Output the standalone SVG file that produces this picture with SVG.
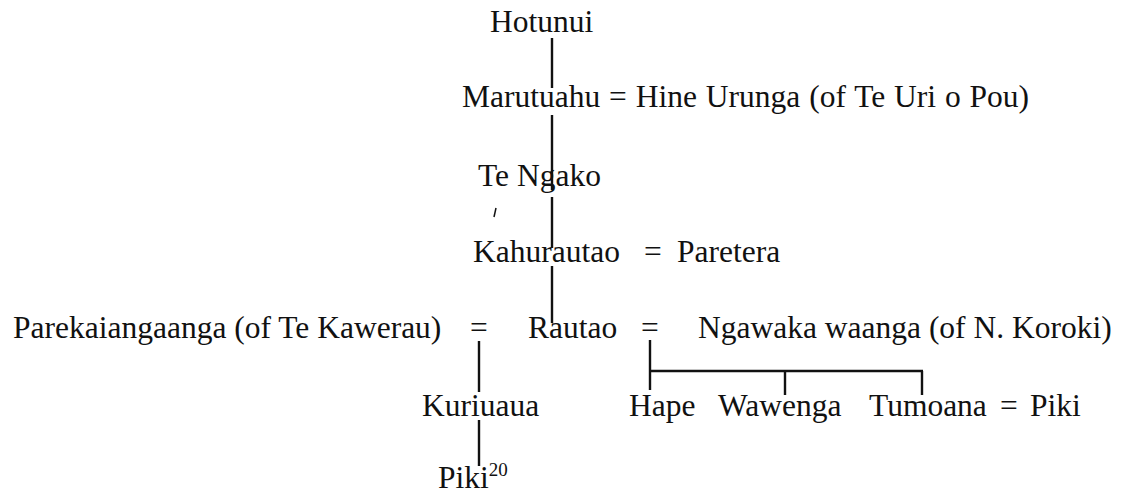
<svg xmlns="http://www.w3.org/2000/svg" width="1125" height="494" viewBox="0 0 1125 494">
<style>
text{font-family:"Liberation Serif","Times New Roman",serif;font-size:31.5px;fill:#111}
.sup{font-size:19px}
.ln{stroke:#111;stroke-width:2.4;fill:none;stroke-linecap:butt}
</style>
<rect width="1125" height="494" fill="#fff"/>
<g id="connectors">
<path class="ln" d="M552 38V88M552 115V190M552 197V248M552 266V323"/>
<path class="ln" d="M479 341V392M479 420V466"/>
<path class="ln" d="M650 340V390M649 371H923M785 371V395M922 371V395"/>
<path d="M496 208L494 217" stroke="#111" stroke-width="1.5"/>
</g>
<g id="n-hotunui"><text x="490" y="32">Hotunui</text></g>
<g id="n-marutuahu"><text x="462" y="107" word-spacing="1">Marutuahu = Hine Urunga (of Te Uri o Pou)</text></g>
<g id="n-tengako"><text x="478" y="186">Te Ngako</text></g>
<g id="n-kahurautao"><text x="473" y="262">Kahurautao</text><text x="644" y="262">=</text><text x="677" y="262">Paretera</text></g>
<g id="n-parekaiangaanga"><text x="13" y="338">Parekaiangaanga (of Te Kawerau)</text><text x="470" y="338">=</text></g>
<g id="n-rautao"><text x="528" y="338">Rautao</text><text x="641" y="338">=</text></g>
<g id="n-ngawaka"><text x="698" y="338">Ngawaka waanga (of N. Koroki)</text></g>
<g id="n-kuriuaua"><text x="422" y="416">Kuriuaua</text></g>
<g id="n-hape"><text x="629" y="416">Hape</text></g>
<g id="n-wawenga"><text x="718" y="416">Wawenga</text></g>
<g id="n-tumoana"><text x="869" y="416">Tumoana</text><text x="1000" y="416">=</text><text x="1030" y="416">Piki</text></g>
<g id="n-piki"><text x="438" y="488">Piki<tspan class="sup" dy="-12">20</tspan></text></g>
</svg>
